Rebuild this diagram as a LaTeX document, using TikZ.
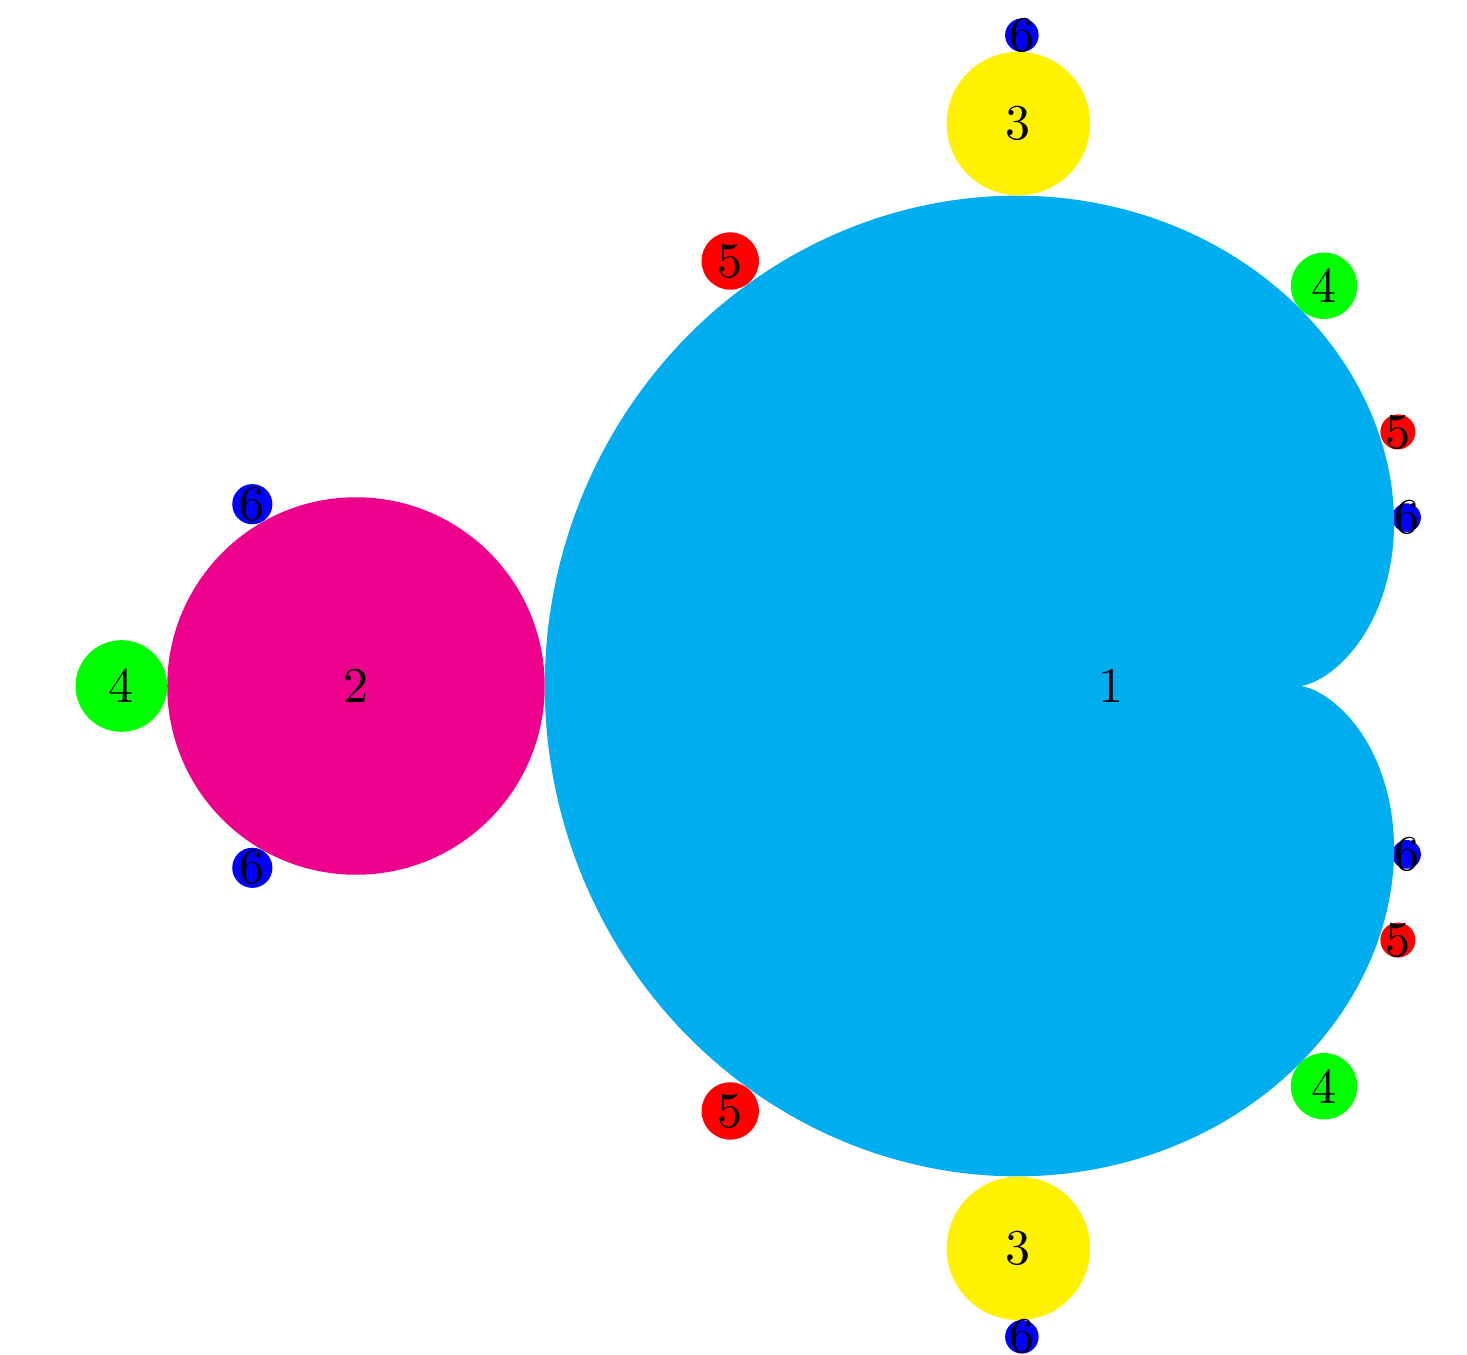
\documentclass[tikz,border=0pt]{standalone}
\usepackage{tikz}
\definecolor{bgreen}{RGB}{0,255,0}
\definecolor{bred}{RGB}{255,0,0}
\definecolor{bblue}{RGB}{0,0,255}
\tikzset{lbl/.style={inner sep=0pt}}
\begin{document}
\begin{tikzpicture}[x=151pt,y=151pt]
\useasboundingbox (-1.47152,-0.88609) rectangle (0.47152,0.90861);
% period 6 bulbs on the cardioid (partly under it)
\fill[bblue] (0.3915,0.2230) circle (0.0190);
\fill[bblue] (0.3915,-0.2230) circle (0.0190);
% main cardioid
\fill[cyan] plot[domain=0:360,samples=500,variable=\t] ({cos(\t)/2-cos(2*\t)/4},{sin(\t)/2-sin(2*\t)/4}) -- cycle;
% period 2 disk
\fill[magenta] (-1,0) circle (0.25);
% period 3
\fill[yellow] (-0.1226,0.7449) circle (0.095);
\fill[yellow] (-0.1226,-0.7449) circle (0.095);
% period 4
\fill[bgreen] (-1.3107,0) circle (0.0607);
\fill[bgreen] (0.2822,0.5301) circle (0.0440);
\fill[bgreen] (0.2822,-0.5301) circle (0.0440);
% period 5
\fill[bred] (0.3800,0.3365) circle (0.0232);
\fill[bred] (0.3800,-0.3365) circle (0.0232);
\fill[bred] (-0.5043,0.5629) circle (0.0380);
\fill[bred] (-0.5043,-0.5629) circle (0.0380);
% period 6
\fill[bblue] (-0.1180,0.8620) circle (0.0222);
\fill[bblue] (-0.1180,-0.8620) circle (0.0222);
\fill[bblue] (-1.1373,0.2408) circle (0.0266);
\fill[bblue] (-1.1373,-0.2408) circle (0.0266);
% labels
\node[lbl] (n1) at (0,0) {1};
\node[lbl] (n2) at (-1,0) {2};
\node[lbl] (n3a) at (-0.1226,0.7449) {3};
\node[lbl] (n3b) at (-0.1226,-0.7449) {3};
\node[lbl] (n4a) at (-1.3107,0) {4};
\node[lbl] (n4b) at (0.2822,0.5301) {4};
\node[lbl] (n4c) at (0.2822,-0.5301) {4};
\node[lbl] (n5a) at (0.3800,0.3365) {5};
\node[lbl] (n5b) at (0.3800,-0.3365) {5};
\node[lbl] (n5c) at (-0.5043,0.5629) {5};
\node[lbl] (n5d) at (-0.5043,-0.5629) {5};
\node[lbl] (n6a) at (0.3915,0.2230) {6};
\node[lbl] (n6b) at (0.3915,-0.2230) {6};
\node[lbl] (n6c) at (-0.1180,0.8620) {6};
\node[lbl] (n6d) at (-0.1180,-0.8620) {6};
\node[lbl] (n6e) at (-1.1373,0.2408) {6};
\node[lbl] (n6f) at (-1.1373,-0.2408) {6};
\end{tikzpicture}
\end{document}
